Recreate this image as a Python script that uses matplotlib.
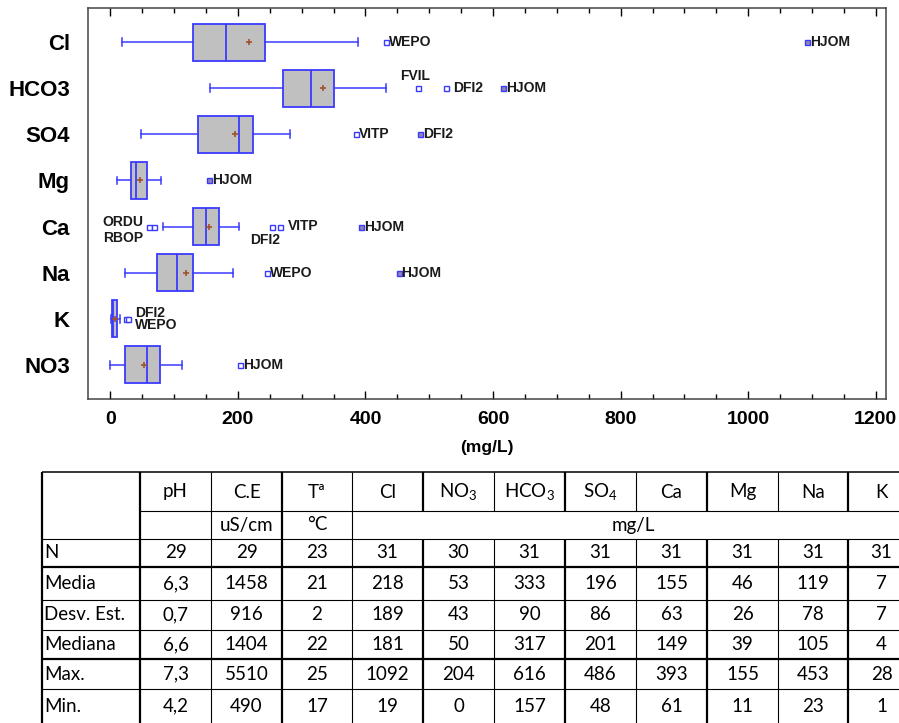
import matplotlib.pyplot as plt
import numpy as np

# box statistics (mg/L)
ions = ['Cl', 'HCO3', 'SO4', 'Mg', 'Ca', 'Na', 'K', 'NO3']
whislo = [19, 157, 48, 11, 83, 23, 1, 0]
q1 = [130, 270, 137, 33, 130, 73, 2.6, 23]
med = [182, 315, 202, 40, 150, 105, 4, 58]
q3 = [243, 351, 224, 57, 171, 130, 10, 78]
whishi = [388, 432, 281, 80, 202, 193, 15, 113]
means = [218, 333, 196, 46, 155, 119, 7, 53]

out_vals = [[432, 1092], [482, 526, 616], [385, 486], [155],
            [61, 69, 253, 266, 393], [246, 452], [25, 28], [204]]
out_names = [['WEPO', 'HJOM'], ['FVIL', 'DFI2', 'HJOM'], ['VITP', 'DFI2'], ['HJOM'],
             ['ORDU', 'RBOP', 'DFI2', 'VITP', 'HJOM'], ['WEPO', 'HJOM'], ['DFI2', 'WEPO'], ['HJOM']]
out_far = [[0, 1], [0, 0, 1], [0, 1], [1], [0, 0, 0, 0, 1], [0, 1], [0, 0], [0]]

# summary table
tab_cols = ['pH', 'C.E', 'Tª', 'Cl', r'NO$_3$', r'HCO$_3$', r'SO$_4$', 'Ca', 'Mg', 'Na', 'K']
tab_units = ['', 'uS/cm', '°C']
tab_units_common = 'mg/L'
tab_rows = ['N', 'Media', 'Desv. Est.', 'Mediana', 'Max.', 'Min.']
tab_vals = [
    ['29', '29', '23', '31', '30', '31', '31', '31', '31', '31', '31'],
    ['6,3', '1458', '21', '218', '53', '333', '196', '155', '46', '119', '7'],
    ['0,7', '916', '2', '189', '43', '90', '86', '63', '26', '78', '7'],
    ['6,6', '1404', '22', '181', '50', '317', '201', '149', '39', '105', '4'],
    ['7,3', '5510', '25', '1092', '204', '616', '486', '393', '155', '453', '28'],
    ['4,2', '490', '17', '19', '0', '157', '48', '61', '11', '23', '1'],
]

bold_font = ['Liberation Sans', 'DejaVu Sans']
plt.rcParams['mathtext.fontset'] = 'custom'
plt.rcParams['mathtext.rm'] = 'Lato'
plt.rcParams['mathtext.it'] = 'Lato'

W, H = 899, 723
fig = plt.figure(figsize=(W / 100, H / 100), dpi=100)
ax = fig.add_axes([88 / W, 1 - 399 / H, (886 - 88) / W, (399 - 8) / H])

blue = '#3a3aff'
pos = np.arange(len(ions))
stats = []
for i in range(len(ions)):
    stats.append(dict(whislo=whislo[i], q1=q1[i], med=med[i], q3=q3[i],
                      whishi=whishi[i], mean=means[i], fliers=[]))
ax.bxp(stats, positions=pos, orientation='horizontal', widths=0.8, capwidths=0.17,
       patch_artist=True, showmeans=True, showfliers=False,
       boxprops=dict(facecolor='#c0c0c0', edgecolor=blue, linewidth=1.3),
       medianprops=dict(color=blue, linewidth=1.3),
       whiskerprops=dict(color=blue, linewidth=1.1),
       capprops=dict(color=blue, linewidth=1.1),
       meanprops=dict(marker='+', markeredgecolor='#a0522d', markersize=5, markeredgewidth=1.2))

# label offsets in points: (dx, dy, ha, va)
special = {
    ('HCO3', 'FVIL'): (-2, 4, 'center', 'bottom'),
    ('HCO3', 'DFI2'): (5.5, 0, 'left', 'center'),
    ('Ca', 'ORDU'): (-4, 3.5, 'right', 'center'),
    ('Ca', 'RBOP'): (-8, -8, 'right', 'center'),
    ('Ca', 'DFI2'): (-5, -9.5, 'center', 'center'),
    ('Ca', 'VITP'): (6, 0.5, 'left', 'center'),
    ('K', 'DFI2'): (6.5, 4.5, 'left', 'center'),
    ('K', 'WEPO'): (5, -4.5, 'left', 'center'),
}
for i, ion in enumerate(ions):
    for v, nm, far in zip(out_vals[i], out_names[i], out_far[i]):
        fc = '#9484b4' if far else 'white'
        ax.plot(v, pos[i], marker='s', ms=3.6, mec=blue, mfc=fc, mew=1.0, ls='none', zorder=4)
        dx, dy, ha, va = special.get((ion, nm), (2, 0, 'left', 'center'))
        ax.annotate(nm, (v, pos[i]), xytext=(dx, dy), textcoords='offset points',
                    ha=ha, va=va, fontsize=10, fontweight='bold', family=bold_font,
                    color='#1a1a1a', zorder=5)

ax.set_xlim(-35, 1216)
ax.set_ylim(len(ions) - 1 + 0.74, -0.74)
ax.set_yticks(pos)
ax.set_yticklabels(ions, fontsize=16, fontweight='bold', family=bold_font)
ax.tick_params(axis='y', length=0, pad=13)
ax.set_xticks(np.arange(0, 1201, 200))
ax.set_xticks(np.arange(0, 1201, 50), minor=True)
ax.tick_params(axis='x', which='major', direction='in', top=True, length=6, width=1, pad=9)
ax.tick_params(axis='x', which='minor', direction='in', top=True, length=3.5, width=1)
for lb in ax.get_xticklabels():
    lb.set_fontsize(14)
    lb.set_fontweight('bold')
    lb.set_family(bold_font)
ax.set_xlabel('(mg/L)', fontsize=12.5, fontweight='bold', family=bold_font, labelpad=8)
for s in ax.spines.values():
    s.set_linewidth(1.1)
    s.set_color('#444444')

# table drawn in pixel coordinates
tx = fig.add_axes([0, 0, 1, 1], facecolor='none')
tx.set_xlim(0, W)
tx.set_ylim(H, 0)
tx.axis('off')
xe = [42, 140, 211, 282, 352, 423, 494, 565, 636, 707, 778, 848, 915]
ye = [472, 511, 539, 567, 600, 630, 659, 689, 730]
thin, thick = 0.8, 1.6
thick_x = {42, 140, 282, 423, 565, 707, 848}
# horizontal rules
tx.hlines(472, xe[0], xe[-1], color='k', lw=1.1)
tx.hlines(511, xe[1], xe[-1], color='k', lw=thin)
for y in ye[2:-1]:
    tx.hlines(y, xe[0], xe[-1], color='k', lw=thick if y in (567, 659) else thin)
# vertical rules
for x in xe[:-1]:
    lw = thick if x in thick_x else thin
    if x <= 352:
        tx.vlines(x, 472, 723, color='k', lw=lw)
    else:
        tx.vlines(x, 472, 511, color='k', lw=lw)
        tx.vlines(x, 539, 723, color='k', lw=lw)

tfont = dict(family=['Lato', 'DejaVu Sans'], fontsize=13.5, color='k')
for j, c in enumerate(tab_cols):
    cx = (xe[j + 1] + xe[j + 2]) / 2
    tx.text(cx, 492, c, ha='center', va='center', **tfont)
for j, u in enumerate(tab_units):
    cx = (xe[j + 1] + xe[j + 2]) / 2
    tx.text(cx, 525, u, ha='center', va='center', **tfont)
tx.text((xe[4] + xe[-1]) / 2, 525, tab_units_common, ha='center', va='center', **tfont)
for r, name in enumerate(tab_rows):
    cy = (ye[r + 2] + ye[r + 3]) / 2
    if r == len(tab_rows) - 1:
        cy = 706
    tx.text(xe[0] + 2, cy, name, ha='left', va='center', **tfont)
    for j, v in enumerate(tab_vals[r]):
        cx = (xe[j + 1] + xe[j + 2]) / 2
        tx.text(cx, cy, v, ha='center', va='center', **tfont)

fig.savefig('out.png', dpi=100)
